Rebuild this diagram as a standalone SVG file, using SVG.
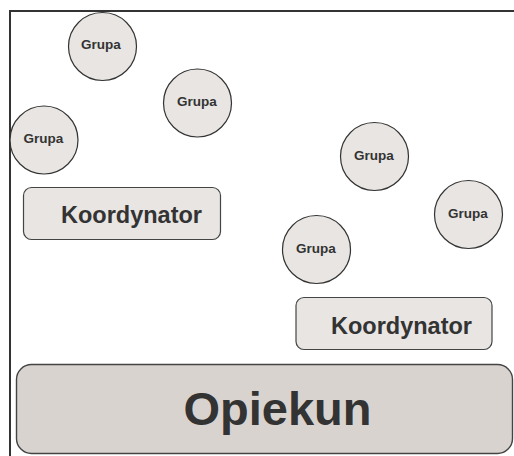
<svg xmlns="http://www.w3.org/2000/svg" width="514" height="456" viewBox="0 0 514 456">
<style>
.frame{fill:none;stroke:#333;stroke-width:2}
.grp circle{fill:#e8e5e2;stroke:#333;stroke-width:1.2}
.grp text{font-family:"Liberation Sans",Arial,sans-serif;font-weight:bold;font-size:13.5px;fill:#333;text-anchor:middle}
.koord rect{fill:#e8e5e2;stroke:#444;stroke-width:1.2}
.koord text{font-family:"Liberation Sans",Arial,sans-serif;font-weight:bold;font-size:23.5px;fill:#333;text-anchor:middle}
.opiekun rect{fill:#d9d3d0;stroke:#444;stroke-width:1.4}
.opiekun text{font-family:"Liberation Sans",Arial,sans-serif;font-weight:bold;font-size:47px;fill:#333;text-anchor:middle}
</style>
<rect width="514" height="456" fill="#fff"/>
<path class="frame" d="M10,456 V11 H514"/>
<g id="connectors"/>
<g id="opiekun" class="opiekun">
<rect x="16.5" y="364.5" width="496" height="89" rx="15"/>
<text x="277.5" y="425">Opiekun</text>
</g>
<g id="koordynator1" class="koord">
<rect x="23.5" y="187.5" width="197" height="52" rx="8"/>
<text x="131.5" y="223">Koordynator</text>
</g>
<g id="koordynator2" class="koord">
<rect x="296" y="297.5" width="196" height="52" rx="8"/>
<text x="401.5" y="333.5">Koordynator</text>
</g>
<g id="grupa1" class="grp"><circle cx="102.5" cy="46.5" r="34"/><text x="101" y="49">Grupa</text></g>
<g id="grupa2" class="grp"><circle cx="197.5" cy="103" r="34"/><text x="197" y="106">Grupa</text></g>
<g id="grupa3" class="grp"><circle cx="44" cy="140" r="34"/><text x="43.5" y="143">Grupa</text></g>
<g id="grupa4" class="grp"><circle cx="374.5" cy="156.5" r="34"/><text x="374" y="159.5">Grupa</text></g>
<g id="grupa5" class="grp"><circle cx="468.5" cy="214.5" r="34"/><text x="468" y="217.5">Grupa</text></g>
<g id="grupa6" class="grp"><circle cx="316.5" cy="249.5" r="34"/><text x="316" y="252.5">Grupa</text></g>
</svg>
